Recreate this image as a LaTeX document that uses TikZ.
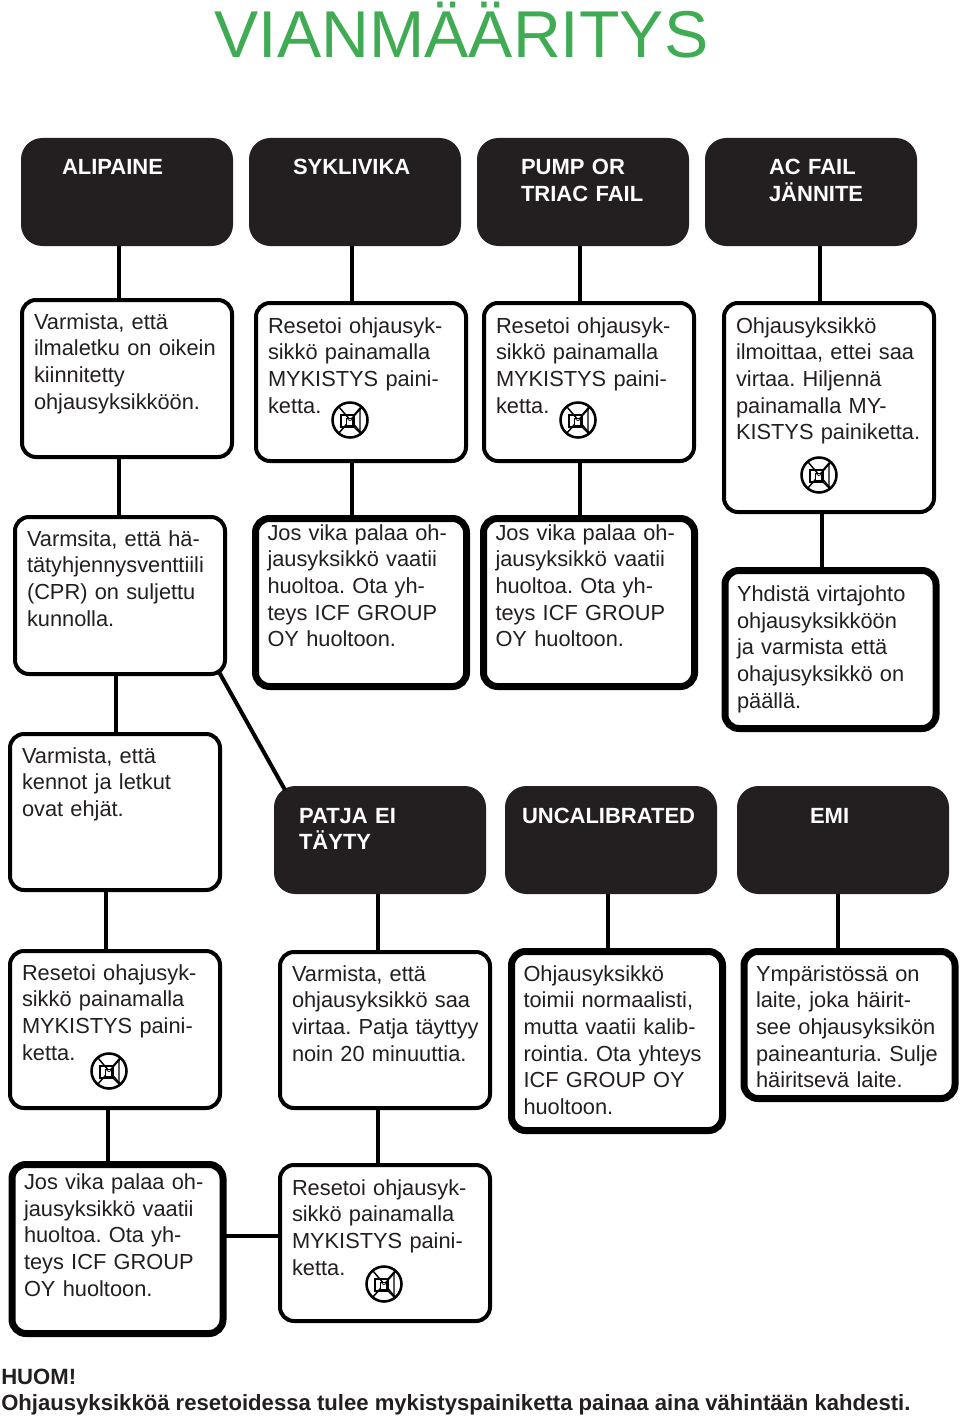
\documentclass[tikz,border=0pt]{standalone}
\usepackage{xcolor}
\usepackage{fontspec}
\setmainfont{Liberation Sans}
\frenchspacing
\usepackage{tikz}
\definecolor{titlegreen}{HTML}{3FAB52}
\definecolor{inkblack}{HTML}{231F20}
\tikzset{
    msgbox/.style={draw=black, fill=white, anchor=north west, align=left, inner xsep=9pt, inner ysep=0pt, outer sep=0pt,
        text width=139.5pt, rounded corners=10.5pt, text=inkblack, font=\fontsize{16.35}{20}\selectfont},
    thinbox/.style={msgbox, line width=3pt},
    thickbox/.style={msgbox, line width=5.25pt, text width=140.25pt},
    boxh/.style 2 args={text height=#2*0.75pt, text depth=(#1-#2)*0.75pt},
    blackbox/.style={fill=inkblack, anchor=north west, align=left, inner ysep=0pt, inner xsep=#1pt, outer sep=0pt,
        text width=159pt-2*#1pt, rounded corners=16pt, text=white, text height=27.75pt, text depth=53.25pt,
        font=\bfseries\fontsize{16.5}{20}\selectfont},
    link/.style={draw=black, line width=3pt},
    muteicon/.pic={
        \draw[line width=1.9pt] (0,0) circle (17.5);
        \draw[line width=1pt] (-9,-5) rectangle (4,7);
        \draw[line width=1pt] (4,-5) -- (10,-12) -- (10,13) -- (4,7);
        \draw[line width=1.1pt] (-11,-13) -- (12,14) (12,-13) -- (-12,14);
        \draw[line width=.6pt, fill=white] (-4,-2) rectangle (2,5);
        \draw[line width=.6pt] (-2.5,-2) arc (180:0:2.5);
    }
}
\begin{document}
\begin{tikzpicture}[x=0.75pt, y=-0.75pt]
    \useasboundingbox (0,0) rectangle (960,1416);
    \node[text=titlegreen, font=\fontsize{49.7}{50}\selectfont, anchor=base] (title) at (461.5,58) {VIANMÄÄRITYS};

    \node[blackbox=30.75] (alipaine) at (21,138) {ALIPAINE};
    \node[blackbox=33] (syklivika) at (249,138) {SYKLIVIKA};
    \node[blackbox=33] (pump) at (477,138) {PUMP OR\\TRIAC FAIL};
    \node[blackbox=48] (acfail) at (705,138) {\mbox{AC FAIL}\\JÄNNITE};

    \node[thinbox, boxh={157}{29}] (ilmaletku) at (22,300) {Varmista, että\\ilmaletku on oikein\\kiinnitetty\\ohjausyksikköön.};
    \node[thinbox, boxh={158}{30}] (resetsyk) at (256,303) {Resetoi ohjausyk-\\sikkö painamalla\\MYKISTYS paini-\\ketta.};
    \node[thinbox, boxh={158}{30}] (resetpump) at (484,303) {Resetoi ohjausyk-\\sikkö painamalla\\MYKISTYS paini-\\ketta.};
    \node[thinbox, boxh={209}{30}] (virta) at (724,303) {Ohjausyksikkö\\ilmoittaa, ettei saa\\virtaa. Hiljennä\\painamalla MY-\\KISTYS painiketta.};

    \node[thinbox, boxh={157}{29}] (venttiili) at (15,517) {Varmsita, että hä-\\tätyhjennysventtiili\\(CPR) on suljettu\\kunnolla.};
    \node[thickbox, boxh={168}{21.5}] (huoltosyk) at (255.5,518.5) {Jos vika palaa oh-\\jausyksikkö vaatii\\huoltoa. Ota yh-\\teys ICF GROUP\\OY huoltoon.};
    \node[thickbox, boxh={168}{21.5}] (huoltopump) at (483.5,518.5) {Jos vika palaa oh-\\jausyksikkö vaatii\\huoltoa. Ota yh-\\teys ICF GROUP\\OY huoltoon.};
    \node[thickbox, boxh={158}{31}] (virtajohto) at (725,570.5) {Yhdistä virtajohto\\ohjausyksikköön\\ja varmista että\\ohajusyksikkö on\\päällä.};

    \node[thinbox, boxh={156}{29}] (kennot) at (10,734) {Varmista, että\\kennot ja letkut\\ovat ehjät.};
    \node[blackbox=18.75] (patja) at (274,786) {PATJA EI\\TÄYTY};
    \node[blackbox=12.75] (uncal) at (505,786) {UNCALIBRATED};
    \node[blackbox=54.75] (emi) at (737,786) {EMI};

    \node[thinbox, boxh={157}{29}] (resetkenno) at (10,951) {Resetoi ohajusyk-\\sikkö painamalla\\MYKISTYS paini-\\ketta.};
    \node[thinbox, boxh={156}{29}] (patjavirta) at (280,952) {Varmista, että\\ohjausyksikkö saa\\\mbox{virtaa. Patja täyttyy}\\noin 20 minuuttia.};
    \node[thickbox, boxh={179}{29.5}] (kalib) at (511.5,951.5) {Ohjausyksikkö\\toimii normaalisti,\\mutta vaatii kalib-\\rointia. Ota yhteys\\ICF GROUP OY\\huoltoon.};
    \node[thickbox, boxh={147}{29.5}] (hairio) at (744,951.5) {Ympäristössä on\\laite, joka häirit-\\see ohjausyksikön\\\mbox{paineanturia. Sulje}\\häiritsevä laite.};

    \node[thickbox, boxh={169}{25}] (huoltokenno) at (12,1164.5) {Jos vika palaa oh-\\jausyksikkö vaatii\\huoltoa. Ota yh-\\teys ICF GROUP\\OY huoltoon.};
    \node[thinbox, boxh={156}{30}] (resetpatja) at (280,1165) {Resetoi ohjausyk-\\sikkö painamalla\\MYKISTYS paini-\\ketta.};

    \node[anchor=north west, inner sep=0pt, align=left, text=inkblack, font=\bfseries\fontsize{16.58}{19.5}\selectfont] (huom) at (1,1369) {HUOM!\\Ohjausyksikköä resetoidessa tulee mykistyspainiketta painaa aina vähintään kahdesti.};

    \pic at (350,420) {muteicon};
    \pic at (578,420) {muteicon};
    \pic at (819,475) {muteicon};
    \pic at (109,1071) {muteicon};
    \pic at (384,1284) {muteicon};

    \coordinate (xa) at (119,0);
    \coordinate (xb) at (352,0);
    \coordinate (xc) at (580,0);
    \coordinate (xd) at (820,0);
    \draw[link] (alipaine.south -| xa) -- (ilmaletku.north -| xa);
    \draw[link] (syklivika.south -| xb) -- (resetsyk.north -| xb);
    \draw[link] (pump.south -| xc) -- (resetpump.north -| xc);
    \draw[link] (acfail.south -| xd) -- (virta.north -| xd);
    \draw[link] (ilmaletku.south -| xa) -- (venttiili.north -| xa);
    \draw[link] (resetsyk.south -| xb) -- (huoltosyk.north -| xb);
    \draw[link] (resetpump.south -| xc) -- (huoltopump.north -| xc);
    \draw[link] ([xshift=1.5pt]virta.south -| xd) -- ([xshift=1.5pt]virtajohto.north -| xd);

    \coordinate (xe) at (116,0);
    \coordinate (xf) at (106,0);
    \coordinate (xg) at (378,0);
    \coordinate (xh) at (608,0);
    \coordinate (xi) at (838,0);
    \coordinate (xj) at (108,0);
    \draw[link] (venttiili.south -| xe) -- (kennot.north -| xe);
    \draw[link] ([shift={(-6,-2)}]venttiili.south east) -- ([shift={(11,4)}]patja.north west);
    \draw[link] (kennot.south -| xf) -- (resetkenno.north -| xf);
    \draw[link] (patja.south -| xg) -- (patjavirta.north -| xg);
    \draw[link] (uncal.south -| xh) -- (kalib.north -| xh);
    \draw[link] (emi.south -| xi) -- (hairio.north -| xi);
    \draw[link] (resetkenno.south -| xj) -- (huoltokenno.north -| xj);
    \draw[link] (patjavirta.south -| xg) -- (resetpatja.north -| xg);
    \draw[link] (huoltokenno.east |- 0,1236) -- (resetpatja.west |- 0,1236);
\end{tikzpicture}
\end{document}
